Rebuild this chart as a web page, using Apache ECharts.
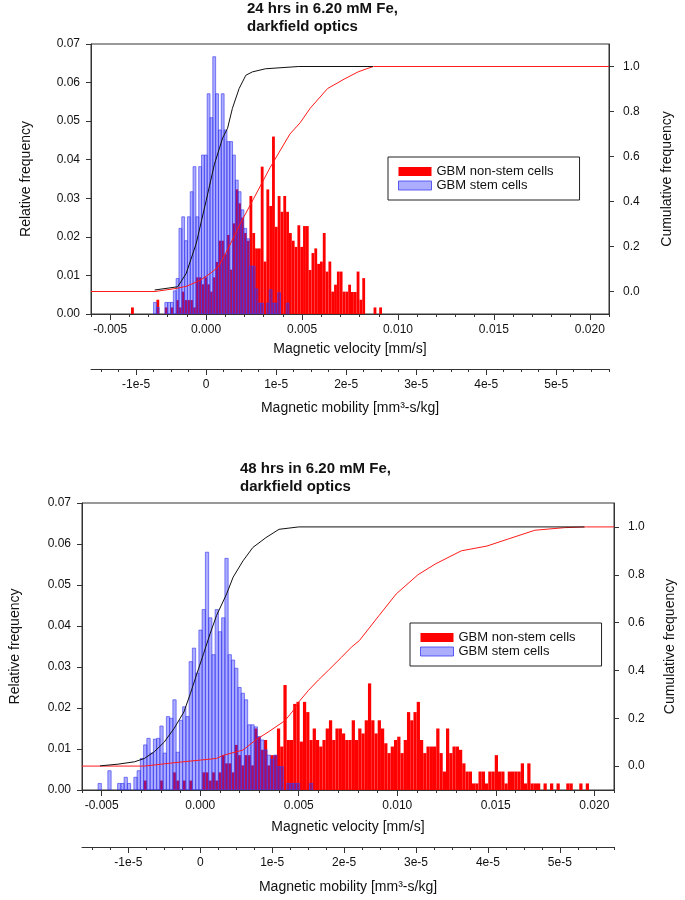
<!DOCTYPE html>
<html><head><meta charset="utf-8">
<script src="https://cdn.jsdelivr.net/npm/echarts@6/dist/echarts.min.js"></script>
<style>html,body{margin:0;padding:0;background:#fff}#c{width:685px;height:900px}</style>
</head><body><div id="c"></div>
<script>
// ---------- data ----------
const LEGEND_NAMES = ['GBM non-stem cells', 'GBM stem cells'];
const TITLES = ['24 hrs in 6.20 mM Fe,\ndarkfield optics', '48 hrs in 6.20 mM Fe,\ndarkfield optics'];
const VEL_TICKS = [-0.005, 0, 0.005, 0.010, 0.015, 0.020];
const VEL_TICK_LABELS = ['-0.005', '0.000', '0.005', '0.010', '0.015', '0.020'];
const MOB_TICKS = [-1e-5, 0, 1e-5, 2e-5, 3e-5, 4e-5, 5e-5];
const MOB_TICK_LABELS = ['-1e-5', '0', '1e-5', '2e-5', '3e-5', '4e-5', '5e-5'];
const CUM_TICKS = [0, 0.2, 0.4, 0.6, 0.8, 1.0];
const VEL_PER_MOB = 365; // velocity [mm/s] per mobility unit

// 24 h histogram: first bin centre and bin width (mm/s)
const TOP_BIN_START = -0.00384;
const TOP_BIN_WIDTH = 0.000147;
const topNonStem = [
  0.0017,0,0,0,0,0,0,0,0,0.0037, 0,0,0.0017,0,0.0017,0,0.0036,0.0017,0.0058,0.0036,
  0.0036,0.0036,0.0017,0.0095,0.0095,0.0077,0.0095,0.0077,0.0058,0.0095,
  0.0135,0.019,0.019,0.0155,0.0205,0.0115,0.0235,0.0323,0.0287,0.025,
  0.021,0.019,0.0306,0.021,0.017,0.017,0.0382,0.0136,0.0323,0.028,
  0.046,0.0226,0.0306,0.0265,0.0306,0.0265,0.021,0.019,0.0174,0.023,
  0.0174,0.0228,0.0228,0.0114,0.0158,0.017,0.013,0.0136,0.021,0.011,
  0.0136,0.0058,0.0076,0.011,0.011,0.0058,0.0058,0.0076,0.0057,0.0057,
  0.011,0.0037,0.0093,0,0,0,0.0017,0,0.0017
];
const topStem = [
  0,0,0,0,0,0,0,0,0.003,0.0017, 0,0,0.003,0.003,0.003,0.006,0.0092,0.0222,0.0252,0.019,
  0.0252,0.0317,0.0382,0.0252,0.0382,0.0412,0.0412,0.0571,0.0509,0.0667,
  0.0571,0.0477,0.0571,0.0477,0.0447,0.0447,0.0412,0.0347,0.0317,0.027,
  0.0222,0.0195,0.0124,0.0124,0.0065,0.0028,0.0028,0,0.0028,0.0063,
  0.0028,0.0028,0.0055,0,0,0.0028
];
// 24 h cumulative frequencies [velocity, fraction]
const topCumStem = [
  [-0.00268,0.0066],[-0.00148,0.021],[-0.00104,0.08],[-0.00052,0.212],[0.0,0.403],
  [0.00043,0.565],[0.00086,0.682],[0.00112,0.726],[0.00137,0.814],[0.00172,0.902],
  [0.00207,0.961],[0.00241,0.976],[0.0031,0.99],[0.00483,1.0],[0.0087,1.0]
];
const topCumNonStem = [
  [-0.006,0],[-0.00266,0],[-0.00153,0.014],[-0.001,0.024],[-0.00031,0.05],[0.00021,0.08],
  [0.00064,0.11],[0.0012,0.2],[0.00177,0.30],[0.00246,0.41],[0.00333,0.55],[0.00437,0.70],
  [0.0049,0.75],[0.00542,0.814],[0.00633,0.902],[0.00724,0.946],[0.00792,0.976],
  [0.00837,0.99],[0.00872,1.0],[0.021,1.0]
];

// 48 h histogram
const BOT_BIN_START = -0.0051;
const BOT_BIN_WIDTH = 0.000165;
const botStem = [
  0.0016,0,0,0.0047,0,0,0.0016,0.0016,0.0031,0.0016,
  0,0.0031,0.0047,0.0077,0.011,0.0126,0.009,0.0124,0.0126,0.0156,
  0.009,0.0179,0.0175,0.022,0.0092,0.017,0.0203,0.0179,0.0313,0.0346,
  0.0285,0.039,0.044,0.058,0.042,0.033,0.044,0.0386,0.042,0.0565,
  0.033,0.0317,0.0297,0.025,0.0236,0.022,0.0159,0.0159,0.0154,0.013,
  0.0122,0.0098,0.0085,0.0075,0.0085,0.0057,0.0057,0,0.0016,0.0016,
  0.0016,0.0016,0,0,0,0.0016
];
const botNonStem = [
  0,0,0,0,0,0,0,0,0,0, 0,0,0,0,0.0023,0,0,0,0,0.0023,
  0,0,0,0.0043,0.0023,0,0.0023,0,0.0023,0, 0,0,0.0043,0.0043,0.0023,0.0043,0.0023,0.0043,0.0085,0.0065,
  0.0065,0.0043,0.011,0.0085,0.006,0.0085,0.0085,0.006,0.015,0.013,
  0.0098,0.0122,0.006,0.0085,0.0085,0.015,0.0106,0.0256,0.0122,0.0122,
  0.021,0.0215,0.0118,0.0215,0.019,0.0122,0.015,0.0122,0.0106,0.0122,
  0.015,0.017,0.0122,0.015,0.015,0.0138,0.0122,0.0122,0.017,0.0122,
  0.015,0.0138,0.017,0.026,0.017,0.0138,0.017,0.015,0.0114,0.009,
  0.0106,0.0122,0.013,0.009,0.0122,0.019,0.017,0.019,0.0215,0.0122,
  0.009,0.0106,0.0106,0.0106,0.015,0.009,0.0045,0.015,0.009,0.0106,
  0.0106,0.0098,0.0065,0.0045,0.0045,0.0016,0.0016,0.0045,0.0045,0.0016,
  0.0045,0.0045,0.0085,0.0045,0.0045,0.0016,0.0045,0.0045,0.0045,0.0045,
  0.0065,0.0016,0.0065,0.0016,0.0016,0.0016,0,0.0016,0,0.0016,
  0,0.0016,0,0,0.0016,0.0016,0,0,0.0016,0,0.0016
];
const botCumStem = [
  [-0.00508,0.001],[-0.00417,0.008],[-0.00333,0.018],[-0.00283,0.032],[-0.00233,0.06],
  [-0.00183,0.10],[-0.00133,0.157],[-0.00083,0.226],[-0.0005,0.303],[-0.00017,0.386],
  [0.00017,0.47],[0.0005,0.553],[0.00083,0.63],[0.00134,0.72],[0.00167,0.79],
  [0.00217,0.858],[0.00267,0.914],[0.00333,0.955],[0.004,0.99],[0.005,1.0],[0.0195,1.0]
];
const botCumNonStem = [
  [-0.006,0],[-0.00283,0],[-0.00275,0.006],[-0.00133,0.014],[0,0.025],[0.00083,0.032],
  [0.00117,0.045],[0.00217,0.067],[0.00283,0.11],[0.0035,0.145],[0.0043,0.19],[0.0047,0.23],
  [0.005,0.268],[0.0055,0.317],[0.006,0.36],[0.0065,0.4],[0.00717,0.455],[0.00767,0.497],
  [0.00808,0.525],[0.00908,0.63],[0.00995,0.72],[0.01105,0.80],[0.01193,0.845],
  [0.01325,0.90],[0.01455,0.92],[0.01565,0.95],[0.01698,0.986],[0.0185,0.997],
  [0.0196,1.0],[0.021,1.0]
];

// ---------- chart ----------
const FONT = 'Liberation Sans';
const VMIN = -0.006, VMAX = 0.021;
const RED = '#ff0000';
const BLUE_FILL = 'rgba(40,40,255,0.38)';
const BLUE_EDGE = 'rgba(60,60,240,0.8)';
const AX = '#333';

function bins(start, width, arr) {
  const out = [];
  arr.forEach((v, i) => { if (v > 0) out.push([start + i * width, v]); });
  return out;
}
function barRender(width) {
  return function (params, api) {
    const x = api.value(0), y = api.value(1);
    const a = api.coord([x - width / 2, y]);
    const b = api.coord([x + width / 2, 0]);
    return { type: 'rect', shape: { x: a[0], y: a[1], width: b[0] - a[0], height: b[1] - a[1] }, style: api.style() };
  };
}
function near(list, labels, v) {
  for (let i = 0; i < list.length; i++) if (Math.abs(list[i] - v) < Math.abs(list[1] - list[0]) * 1e-3) return labels[i];
  return '';
}
const velMinor = [];
for (let m = -6; m <= 21; m++) if (m % 5 !== 0) velMinor.push(m / 1000);
const mobMinor = [];
for (let q = -6; q <= 23; q++) if (q % 4 !== 0) mobMinor.push(q * 0.25e-5);

const labelStyle = { fontFamily: FONT, fontSize: 12, color: '#111' };
const nameStyle = { fontFamily: FONT, fontSize: 14, color: '#111' };

function xAxesFor(g, mobOffset, velGap, mobGap) {
  const base = { gridIndex: g, type: 'value', position: 'bottom', splitLine: { show: false } };
  return [
    Object.assign({}, base, {
      min: VMIN, max: VMAX, name: 'Magnetic velocity [mm/s]', nameLocation: 'middle', nameGap: velGap,
      nameTextStyle: nameStyle,
      axisLine: { onZero: false, lineStyle: { color: AX, width: 1 } },
      axisTick: { customValues: VEL_TICKS, length: 6, lineStyle: { color: AX } },
      axisLabel: Object.assign({ customValues: VEL_TICKS, margin: 10, formatter: v => near(VEL_TICKS, VEL_TICK_LABELS, v) }, labelStyle)
    }),
    Object.assign({}, base, {
      min: VMIN, max: VMAX,
      axisLine: { show: false, onZero: false },
      axisTick: { customValues: velMinor, length: 3, lineStyle: { color: AX } },
      axisLabel: { show: false }
    }),
    Object.assign({}, base, {
      min: VMIN / VEL_PER_MOB, max: VMAX / VEL_PER_MOB, offset: mobOffset,
      name: 'Magnetic mobility [mm³-s/kg]', nameLocation: 'middle', nameGap: mobGap, nameTextStyle: nameStyle,
      axisLine: { onZero: false, lineStyle: { color: AX, width: 1 } },
      axisTick: { customValues: MOB_TICKS, length: 6, lineStyle: { color: AX } },
      axisLabel: Object.assign({ customValues: MOB_TICKS, margin: 10, formatter: v => near(MOB_TICKS, MOB_TICK_LABELS, v) }, labelStyle)
    }),
    Object.assign({}, base, {
      min: VMIN / VEL_PER_MOB, max: VMAX / VEL_PER_MOB, offset: mobOffset,
      axisLine: { show: false, onZero: false },
      axisTick: { customValues: mobMinor, length: 3, lineStyle: { color: AX } },
      axisLabel: { show: false }
    })
  ];
}
function yAxesFor(g, leftGap, rightGap) {
  return [
    { gridIndex: g, type: 'value', position: 'left', min: 0, max: 0.07, interval: 0.01,
      name: 'Relative frequency', nameLocation: 'middle', nameGap: leftGap, nameRotate: 90, nameTextStyle: nameStyle,
      splitLine: { show: false },
      axisLine: { show: true, onZero: false, lineStyle: { color: AX } },
      axisTick: { show: true, length: 5, lineStyle: { color: AX } },
      axisLabel: Object.assign({ margin: 11, formatter: v => v.toFixed(2) }, labelStyle) },
    { gridIndex: g, type: 'value', position: 'right', min: -0.1, max: 1.1,
      name: 'Cumulative frequency', nameLocation: 'middle', nameGap: rightGap, nameRotate: 90, nameTextStyle: nameStyle,
      splitLine: { show: false },
      axisLine: { show: true, onZero: false, lineStyle: { color: AX } },
      axisTick: { show: true, customValues: CUM_TICKS, length: 5, lineStyle: { color: AX } },
      axisLabel: Object.assign({ customValues: CUM_TICKS, margin: 14, formatter: v => v.toFixed(1) }, labelStyle) }
  ];
}
function panelSeries(xi, yl, yr, start, width, nonStem, stem, cumStem, cumNonStem) {
  return [
    { name: LEGEND_NAMES[0], type: 'custom', xAxisIndex: xi, yAxisIndex: yl, renderItem: barRender(width),
      encode: { x: 0, y: 1 }, clip: true, z: 2,
      itemStyle: { color: RED }, data: bins(start, width, nonStem) },
    { name: LEGEND_NAMES[1], type: 'custom', xAxisIndex: xi, yAxisIndex: yl, renderItem: barRender(width),
      encode: { x: 0, y: 1 }, clip: true, z: 3,
      itemStyle: { color: BLUE_FILL, borderColor: BLUE_EDGE, borderWidth: 0.8 }, data: bins(start, width, stem) },
    { name: 'cum-stem-' + xi, type: 'line', xAxisIndex: xi, yAxisIndex: yr, showSymbol: false, z: 5,
      lineStyle: { color: '#111', width: 1 }, data: cumStem },
    { name: 'cum-nonstem-' + xi, type: 'line', xAxisIndex: xi, yAxisIndex: yr, showSymbol: false, z: 4,
      lineStyle: { color: '#ff1a1a', width: 1 }, data: cumNonStem }
  ];
}
function legendAt(left, top) {
  return {
    left: left, top: top, orient: 'vertical', itemGap: 1, itemWidth: 33, itemHeight: 9,
    padding: [8, 26, 8, 10], borderColor: '#222', borderWidth: 1, backgroundColor: '#fff',
    selectedMode: false,
    textStyle: { fontFamily: FONT, fontSize: 13, color: '#111', lineHeight: 13 },
    data: [
      { name: LEGEND_NAMES[0], icon: 'rect', itemStyle: { color: RED } },
      { name: LEGEND_NAMES[1], icon: 'rect', itemStyle: { color: BLUE_FILL, borderColor: BLUE_EDGE, borderWidth: 1 } }
    ]
  };
}

const chart = echarts.init(document.getElementById('c'), null, { renderer: 'canvas' });
chart.setOption({
  animation: false,
  backgroundColor: '#fff',
  title: [
    { text: TITLES[0], left: 247, top: 0, padding: 0, textStyle: { fontFamily: FONT, fontSize: 15, fontWeight: 'bold', lineHeight: 18, color: '#111' } },
    { text: TITLES[1], left: 240, top: 460, padding: 0, textStyle: { fontFamily: FONT, fontSize: 15, fontWeight: 'bold', lineHeight: 18, color: '#111' } }
  ],
  legend: [legendAt(388, 157), legendAt(410, 623)],
  grid: [
    { left: 91, top: 44, width: 518, height: 270, show: true, borderColor: AX, borderWidth: 1, backgroundColor: 'transparent' },
    { left: 80, top: 503, width: 540, height: 287, show: true, borderColor: AX, borderWidth: 1, backgroundColor: 'transparent' }
  ],
  xAxis: xAxesFor(0, 55, 28, 32).concat(xAxesFor(1, 57, 30, 33)),
  yAxis: yAxesFor(0, 58, 51).concat(yAxesFor(1, 60, 49)),
  series: panelSeries(0, 0, 1, TOP_BIN_START, TOP_BIN_WIDTH, topNonStem, topStem, topCumStem, topCumNonStem)
    .concat(panelSeries(4, 2, 3, BOT_BIN_START, BOT_BIN_WIDTH, botNonStem, botStem, botCumStem, botCumNonStem))
});
</script>
</body></html>
